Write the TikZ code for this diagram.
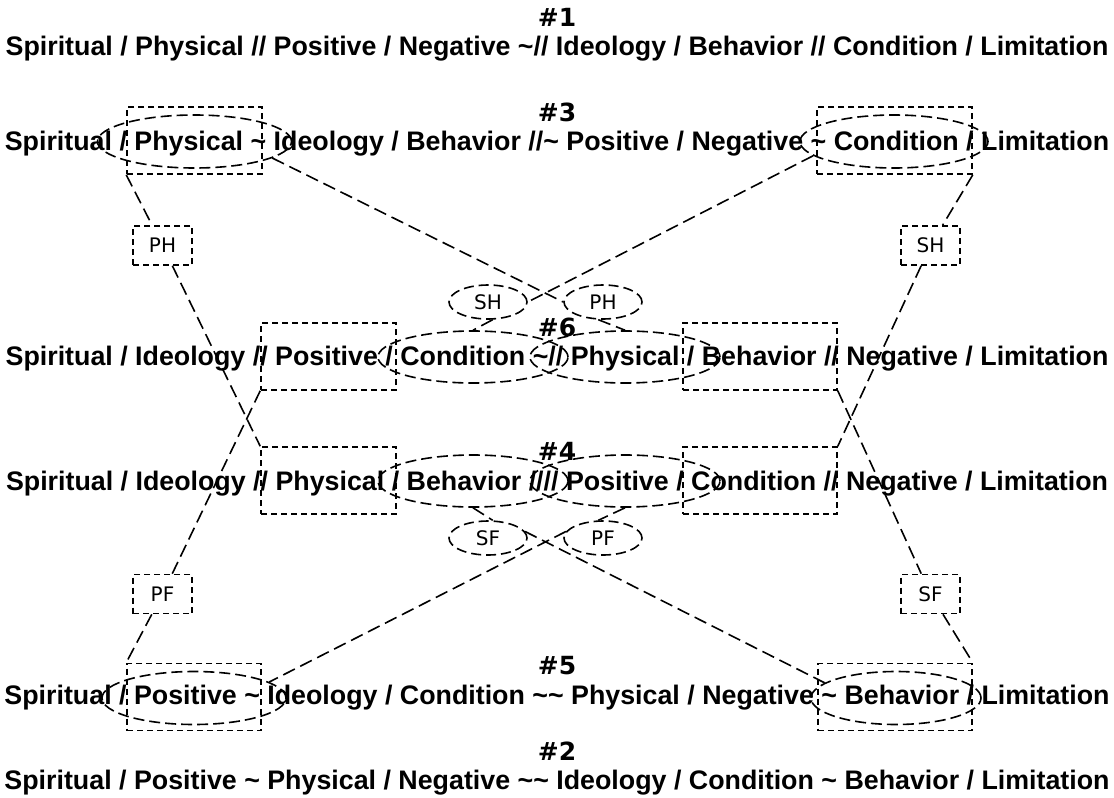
\documentclass[tikz,border=0pt]{standalone}
\usepackage{fontspec}
\setmainfont{Liberation Sans}
\newfontfamily\tagfont{DejaVu Sans}
\usetikzlibrary{shapes.geometric}

\begin{document}
\begin{tikzpicture}[x=1pt,y=-1pt,
  rowtxt/.style={font=\fontsize{26.8}{30}\selectfont\bfseries, inner sep=0pt, anchor=base},
  hdr/.style={font=\tagfont\fontsize{25}{28}\selectfont\bfseries, inner sep=0pt, anchor=base},
  clus/.style={draw, rectangle, dash pattern=on 6pt off 4pt, line width=1.6pt, inner sep=0pt},
  ring/.style={draw, ellipse, dash pattern=on 11pt off 5pt, line width=1.6pt, inner sep=0pt},
  tagbox/.style={draw, rectangle, dash pattern=on 6pt off 4pt, line width=1.6pt, inner sep=0pt,
    font=\tagfont\fontsize{20}{22}\selectfont, minimum width=59pt, minimum height=39pt},
  tagring/.style={draw, ellipse, dash pattern=on 10pt off 5pt, line width=1.6pt, inner sep=0pt,
    font=\tagfont\fontsize{20}{22}\selectfont, minimum width=78pt, minimum height=34pt},
  link/.style={draw, dash pattern=on 13pt off 6pt, line width=1.6pt},
]
\useasboundingbox (0,0) rectangle (1114,798);

% ---- rows of text (base = caps centre + 0.358 em) ----
\node[hdr] (h1) at (557,26) {\#1};
\node[rowtxt] (t1) at (557,55.6) {Spiritual / Physical // Positive / Negative \textasciitilde// Ideology / Behavior // Condition / Limitation};
\node[hdr] (h3) at (557,121) {\#3};
\node[rowtxt] (t3) at (557,150.6) {Spiritual / Physical \textasciitilde{} Ideology / Behavior //\textasciitilde{} Positive / Negative \textasciitilde{} Condition / Limitation};
\node[hdr] (h6) at (557,336) {\#6};
\node[rowtxt] (t6) at (557,365.6) {Spiritual / Ideology // Positive / Condition \textasciitilde// Physical / Behavior // Negative / Limitation};
\node[hdr] (h4) at (557,460) {\#4};
\node[rowtxt] (t4) at (557,490.6) {Spiritual / Ideology // Physical / Behavior //// Positive / Condition // Negative / Limitation};
\node[hdr] (h5) at (557,674) {\#5};
\node[rowtxt] (t5) at (557,704.6) {Spiritual / Positive \textasciitilde{} Ideology / Condition \textasciitilde\textasciitilde{} Physical / Negative \textasciitilde{} Behavior / Limitation};
\node[hdr] (h2) at (557,760) {\#2};
\node[rowtxt] (t2) at (557,789.6) {Spiritual / Positive \textasciitilde{} Physical / Negative \textasciitilde\textasciitilde{} Ideology / Condition \textasciitilde{} Behavior / Limitation};

% ---- dashed groups ----
\node[clus, minimum width=135pt, minimum height=67pt] (r3L) at (194.5,140.5) {};
\node[clus, minimum width=155pt, minimum height=67pt] (r3R) at (894.5,140.5) {};
\node[ring, minimum width=194pt, minimum height=53pt] (e3L) at (194.5,141.5) {};
\node[ring, minimum width=188pt, minimum height=53pt] (e3R) at (894,141.5) {};

\node[clus, minimum width=135pt, minimum height=67pt] (r6L) at (328.5,356.5) {};
\node[clus, minimum width=154pt, minimum height=67pt] (r6R) at (760,356.5) {};
\node[ring, minimum width=190pt, minimum height=52pt] (e6L) at (473,357) {};
\node[ring, minimum width=190pt, minimum height=52pt] (e6R) at (625,357) {};

\node[clus, minimum width=135pt, minimum height=67pt] (r4L) at (328.5,480.5) {};
\node[clus, minimum width=154pt, minimum height=67pt] (r4R) at (760,480.5) {};
\node[ring, minimum width=190pt, minimum height=52pt] (e4L) at (473,481) {};
\node[ring, minimum width=190pt, minimum height=52pt] (e4R) at (625,481) {};

\node[clus, minimum width=134pt, minimum height=67pt] (r5L) at (194,697) {};
\node[clus, minimum width=154pt, minimum height=67pt] (r5R) at (895,697) {};
\node[ring, minimum width=184pt, minimum height=53pt] (e5L) at (194,698) {};
\node[ring, minimum width=170pt, minimum height=53pt] (e5R) at (896,698) {};

% ---- tags ----
\node[tagbox] (bPH) at (162.5,245.5) {PH};
\node[tagbox] (bSH) at (930.5,245.5) {SH};
\node[tagbox] (bPF) at (162.5,594) {PF};
\node[tagbox] (bSF) at (930.5,594) {SF};
\node[tagring] (oSH) at (488,302) {SH};
\node[tagring] (oPH) at (603,302) {PH};
\node[tagring] (oSF) at (488,538) {SF};
\node[tagring] (oPF) at (603,538) {PF};

% ---- links between groups ----
\draw[link] (r3L.south west) -- (bPH);
\draw[link] (bPH) -- (r4L.north west);
\draw[link] (r3R.south east) -- (bSH);
\draw[link] (bSH) -- (r4R.north east);
\draw[link] (r6L.south west) -- (bPF);
\draw[link] (bPF) -- (r5L.north west);
\draw[link] (r6R.south east) -- (bSF);
\draw[link] (bSF) -- (r5R.north east);

\draw[link] (e3L.-12) -- (oPH.west);
\draw[link] (oPH.-105) -- (e6R.north);
\draw[link] (e3R.190) -- (oSH.east);
\draw[link] (oSH.-75) -- (e6L.north);
\draw[link] (e4L.south) -- (oSF.75);
\draw[link] (oSF.10) -- (e5R.168);
\draw[link] (e4R.south) -- (oPF.105);
\draw[link] (oPF.170) -- (e5L.12);
\end{tikzpicture}
\end{document}
